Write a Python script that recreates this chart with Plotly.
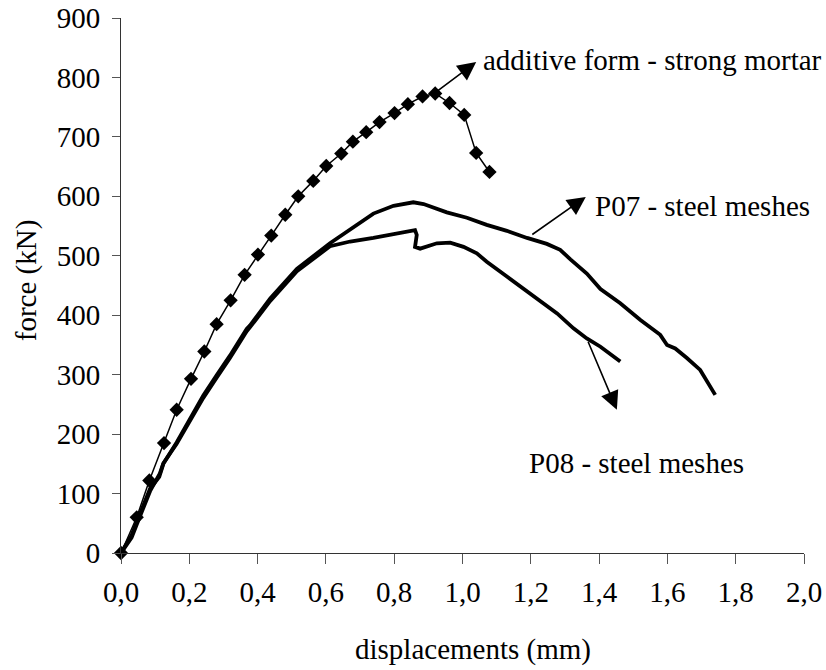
import plotly.graph_objects as go

# additive form - strong mortar (diamonds)
add_x = [0.0, 0.046, 0.083, 0.126, 0.163, 0.205, 0.244, 0.280, 0.321, 0.362, 0.401, 0.440,
         0.481, 0.519, 0.563, 0.601, 0.645, 0.679, 0.718, 0.757, 0.801, 0.840, 0.883, 0.920,
         0.962, 1.005, 1.040, 1.079]
add_y = [0, 60, 122, 185, 241, 293, 339, 385, 425, 468, 502, 534,
         569, 600, 626, 651, 672, 692, 708, 725, 740, 755, 768, 773,
         757, 737, 673, 641]

# P07 - steel meshes
p07_x = [0.0, 0.031, 0.046, 0.065, 0.085, 0.112, 0.124, 0.163, 0.202, 0.241, 0.280, 0.319,
         0.368, 0.378, 0.437, 0.515, 0.612, 0.681, 0.739, 0.798, 0.856, 0.886, 0.954, 1.013,
         1.071, 1.130, 1.189, 1.247, 1.286, 1.316, 1.364, 1.404, 1.462, 1.521, 1.579, 1.599,
         1.623, 1.657, 1.696, 1.740]
p07_y = [0, 30, 52, 80, 108, 128, 150, 186, 226, 265, 299, 332,
         377, 383, 428, 478, 521, 548, 571, 584, 590, 587, 573, 564,
         552, 542, 530, 520, 510, 494, 470, 444, 420, 392, 367, 350,
         344, 328, 308, 266]

# P08 - steel meshes
p08_x = [0.0, 0.031, 0.046, 0.065, 0.085, 0.114, 0.124, 0.163, 0.202, 0.241, 0.280, 0.319,
         0.368, 0.378, 0.437, 0.515, 0.612, 0.671, 0.739, 0.808, 0.837, 0.861, 0.866, 0.861,
         0.876, 0.925, 0.964, 1.003, 1.042, 1.071, 1.130, 1.189, 1.247, 1.277, 1.325, 1.364,
         1.404, 1.462]
p08_y = [0, 26, 48, 76, 104, 134, 151, 184, 222, 261, 295, 328,
         373, 380, 424, 474, 516, 524, 530, 538, 540, 543, 535, 515,
         512, 521, 522, 515, 504, 490, 465, 440, 414, 403, 378, 361,
         347, 322]

x_ticks = [0.0, 0.2, 0.4, 0.6, 0.8, 1.0, 1.2, 1.4, 1.6, 1.8, 2.0]
y_ticks = [0, 100, 200, 300, 400, 500, 600, 700, 800, 900]

FONT = "'Liberation Serif', 'DejaVu Serif', serif"

fig = go.Figure()
fig.add_trace(go.Scatter(x=p07_x, y=p07_y, mode="lines",
                         line=dict(color="black", width=3.8), cliponaxis=False))
fig.add_trace(go.Scatter(x=p08_x, y=p08_y, mode="lines",
                         line=dict(color="black", width=3.8), cliponaxis=False))
fig.add_trace(go.Scatter(x=add_x, y=add_y, mode="lines+markers",
                         line=dict(color="black", width=1.5),
                         marker=dict(symbol="diamond", size=11, color="black"),
                         cliponaxis=False))

arrow_common = dict(xref="x", yref="y", axref="x", ayref="y", text="", showarrow=True,
                    arrowhead=2, arrowsize=2.3, arrowwidth=1.6, arrowcolor="black",
                    standoff=0, startstandoff=0)

annotations = [
    dict(x=1.040, y=826, ax=0.905, ay=768, **arrow_common),
    dict(x=1.361, y=599, ax=1.200, ay=534, **arrow_common),
    dict(x=1.452, y=241, ax=1.366, ay=358, **arrow_common),
    dict(x=1.055, y=830, xref="x", yref="y", text="additive form - strong mortar",
         showarrow=False, xanchor="left", yanchor="middle",
         font=dict(family=FONT, size=29, color="black")),
    dict(x=1.382, y=584, xref="x", yref="y", text="P07 - steel meshes",
         showarrow=False, xanchor="left", yanchor="middle",
         font=dict(family=FONT, size=29, color="black")),
    dict(x=1.190, y=152, xref="x", yref="y", text="P08 - steel meshes",
         showarrow=False, xanchor="left", yanchor="middle",
         font=dict(family=FONT, size=29, color="black")),
    dict(x=0.516, y=-0.18, xref="paper", yref="paper", text="displacements (mm)",
         showarrow=False, xanchor="center", yanchor="middle",
         font=dict(family=FONT, size=29, color="black")),
    dict(x=-0.139, y=0.51, xref="paper", yref="paper", text="force (kN)",
         showarrow=False, xanchor="center", yanchor="middle", textangle=-90,
         font=dict(family=FONT, size=29, color="black")),
]

fig.update_layout(
    width=826, height=670,
    margin=dict(l=121, r=22, t=18, b=117, autoexpand=False),
    paper_bgcolor="white", plot_bgcolor="white",
    showlegend=False,
    separators=",.",
    font=dict(family=FONT, size=29, color="black"),
    annotations=annotations,
    xaxis=dict(range=[0, 2.0], tickvals=x_ticks, tickformat=".1f", automargin=False,
               showgrid=False, zeroline=False, showline=True, linecolor="#333333",
               linewidth=1, ticks="outside", ticklen=10, tickcolor="#555555",
               tickfont=dict(family=FONT, size=29, color="black"), ticklabelstandoff=3),
    yaxis=dict(range=[0, 900], tickvals=y_ticks, automargin=False,
               showgrid=False, zeroline=False, showline=True, linecolor="#333333",
               linewidth=1, ticks="outside", ticklen=8, tickcolor="#555555",
               tickfont=dict(family=FONT, size=29, color="black"), ticklabelstandoff=6),
)

fig.write_html("out.html")
